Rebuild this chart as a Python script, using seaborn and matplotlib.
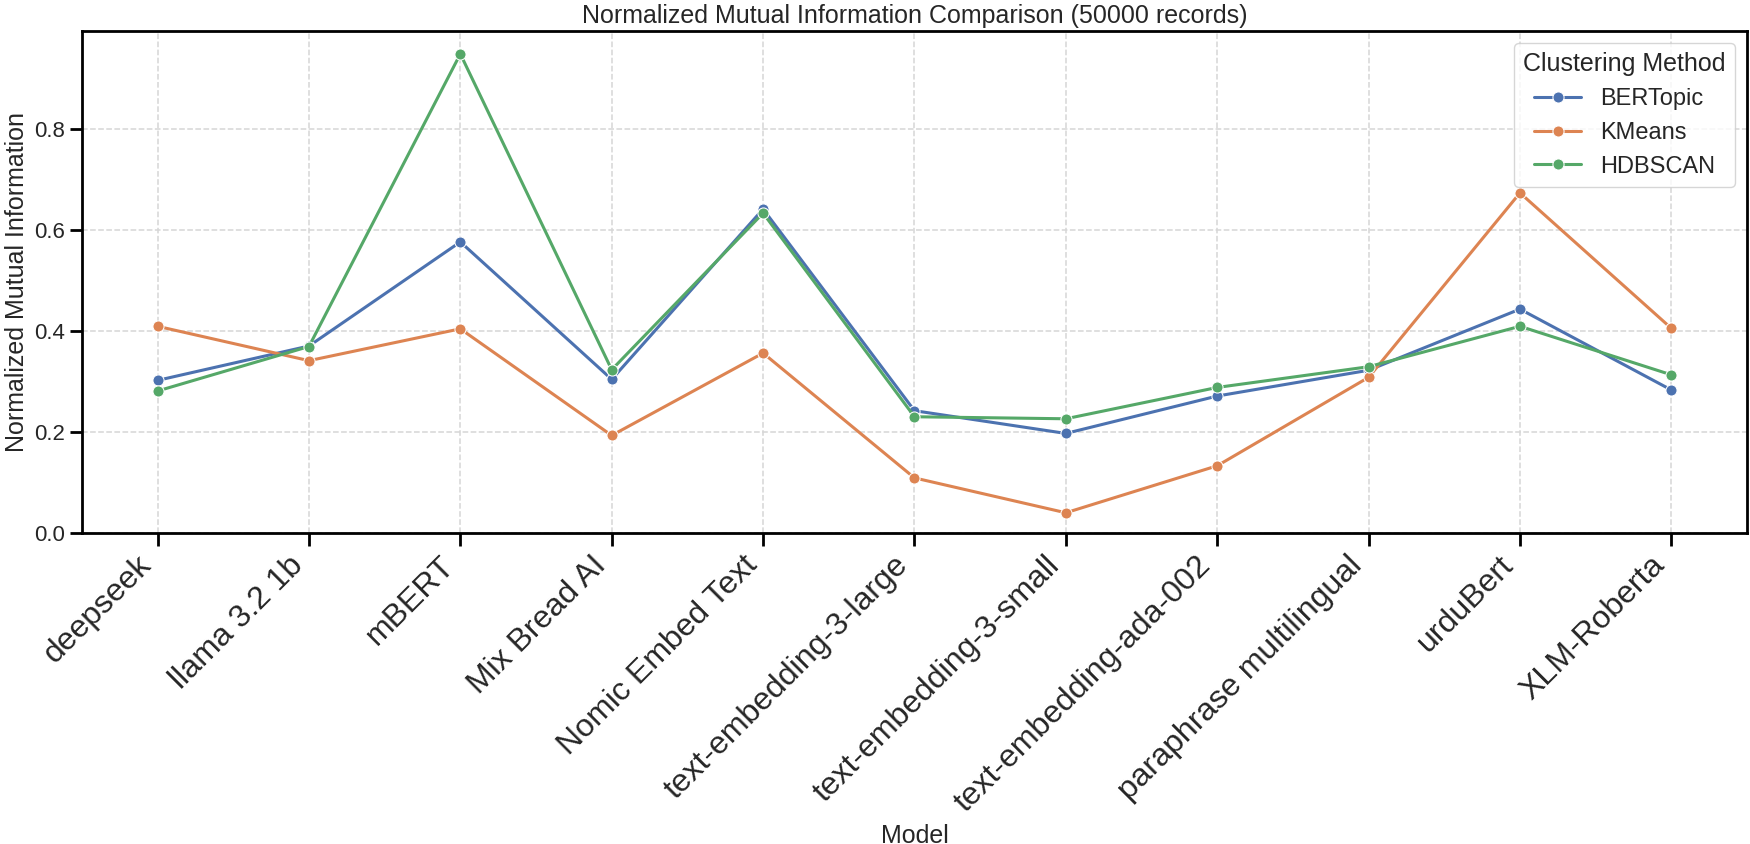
import matplotlib
matplotlib.use("Agg")
import matplotlib.pyplot as plt
import seaborn as sns
import pandas as pd

# ── Data ─────────────────────────────────────────────────────────────────────
models = [
    "deepseek", "llama 3.2 1b", "mBERT", "Mix Bread AI", "Nomic Embed Text",
    "text-embedding-3-large", "text-embedding-3-small", "text-embedding-ada-002",
    "paraphrase multilingual", "urduBert", "XLM-Roberta",
]
bertopic = [0.302, 0.370, 0.576, 0.304, 0.641, 0.242, 0.197, 0.271, 0.322, 0.443, 0.283]
kmeans   = [0.409, 0.341, 0.404, 0.193, 0.356, 0.109, 0.040, 0.133, 0.308, 0.673, 0.405]
hdbscan  = [0.281, 0.369, 0.948, 0.323, 0.633, 0.230, 0.226, 0.288, 0.329, 0.409, 0.313]
methods  = ["BERTopic", "KMeans", "HDBSCAN"]

df = pd.DataFrame({
    "Model": models * 3,
    "Normalized Mutual Information": bertopic + kmeans + hdbscan,
    "Clustering Method": [m for m in methods for _ in models],
})

sns.set_theme(style="ticks", palette="deep")
plt.rcParams["font.family"] = ["Liberation Sans", "DejaVu Sans"]

fig, ax = plt.subplots(figsize=(17.5, 8.44), dpi=100)
fig.subplots_adjust(left=0.0468, right=0.9983, top=0.9633, bottom=0.3685)

sns.lineplot(data=df, x="Model", y="Normalized Mutual Information",
             hue="Clustering Method", hue_order=methods, marker="o",
             markersize=8, linewidth=2.2, sort=False, ax=ax)

ax.set_ylim(bottom=0)
ax.grid(True, linestyle="--", color="#d6d6d6", linewidth=1.1)
ax.set_axisbelow(True)
for sp in ax.spines.values():
    sp.set_linewidth(2)
    sp.set_color("black")
ax.tick_params(axis="both", width=2, length=9, color="black")
ax.tick_params(axis="y", labelsize=16)
ax.tick_params(axis="x", labelsize=23)
plt.setp(ax.get_xticklabels(), rotation=45, ha="right")

ax.set_title("Normalized Mutual Information Comparison (50000 records)", fontsize=18)
ax.set_xlabel("Model", fontsize=18)
ax.set_ylabel("Normalized Mutual Information", fontsize=18, labelpad=3)

leg = ax.legend(title="Clustering Method", loc="upper right",
                fontsize=17, title_fontsize=18)

fig.savefig("out.png", dpi=100)
plt.close()
